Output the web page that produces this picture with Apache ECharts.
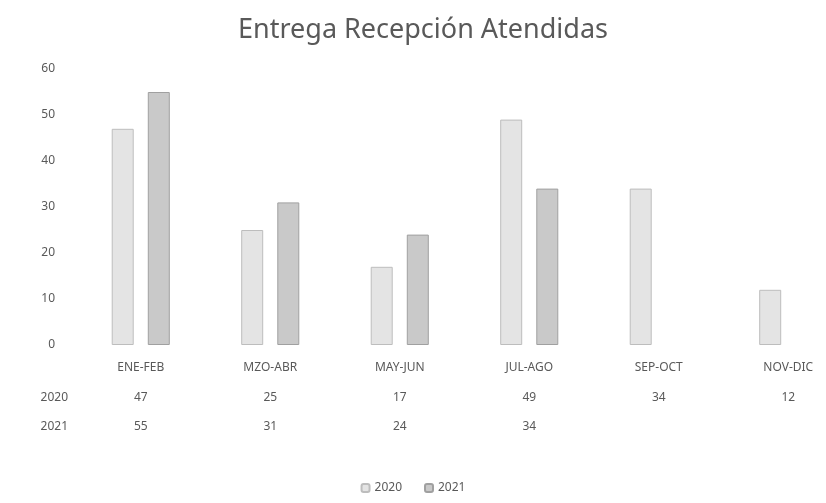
<!DOCTYPE html>
<html>
<head>
<meta charset="utf-8">
<script src="https://cdn.jsdelivr.net/npm/echarts@6/dist/echarts.min.js"></script>
<style>
  html, body { margin: 0; padding: 0; background: #fff; }
  #chart { width: 826px; height: 503px; }
</style>
</head>
<body>
<div id="chart"></div>
<script>
var categories = ['ENE-FEB', 'MZO-ABR', 'MAY-JUN', 'JUL-AGO', 'SEP-OCT', 'NOV-DIC']
var seriesNames = ['2020', '2021']
var values2020 = [47, 25, 17, 49, 34, 12]
var values2021 = [55, 31, 24, 34, null, null]

var textColor = '#595959'
var font = 'Noto Sans'

// one hidden category axis per table row, the numbers are its labels
function tableRow(name, values, offset) {
    return {
        type: 'category',
        gridIndex: 0,
        position: 'bottom',
        offset: offset,
        data: values.map(function (v) { return v == null ? '' : String(v) }),
        axisLine: { show: false },
        axisTick: { show: false },
        axisLabel: { color: textColor, fontFamily: font, fontSize: 12, margin: -6, interval: 0 },
        name: name,
        nameLocation: 'start',
        nameGap: 8,
        nameTextStyle: { color: textColor, fontFamily: font, fontSize: 12, align: 'right', verticalAlign: 'middle' }
    }
}

var chart = echarts.init(document.getElementById('chart'))
chart.setOption({
    animation: false,
    title: {
        text: 'Entrega Recepción Atendidas',
        left: 418,
        textAlign: 'center',
        top: 12,
        textStyle: { color: textColor, fontFamily: font, fontSize: 27, fontWeight: 'normal' }
    },
    legend: {
        data: seriesNames,
        bottom: 4,
        left: 'center',
        itemWidth: 8,
        itemHeight: 8,
        itemGap: 22,
        textStyle: { color: textColor, fontFamily: font, fontSize: 12 }
    },
    grid: { left: 76, top: 69, width: 777, height: 276, outerBoundsMode: 'none' },
    xAxis: [
        {
            type: 'category',
            data: categories,
            axisLine: { show: false },
            axisTick: { show: false },
            axisLabel: { color: textColor, fontFamily: font, fontSize: 12, margin: 17, interval: 0 }
        },
        tableRow('2020', values2020, 53),
        tableRow('2021', values2021, 82)
    ],
    yAxis: {
        type: 'value',
        min: 0,
        max: 60,
        interval: 10,
        axisLine: { show: false },
        axisTick: { show: false },
        splitLine: { show: false },
        axisLabel: { color: textColor, fontFamily: font, fontSize: 12, margin: 21 }
    },
    series: [
        {
            name: '2020',
            type: 'bar',
            data: values2020,
            barWidth: 22,
            barGap: '64%',
            itemStyle: { color: '#e4e4e4', borderColor: '#bdbdbd', borderWidth: 1 }
        },
        {
            name: '2021',
            type: 'bar',
            data: values2021,
            barWidth: 22,
            itemStyle: { color: '#c9c9c9', borderColor: '#a0a0a0', borderWidth: 1 }
        }
    ]
})
</script>
</body>
</html>
